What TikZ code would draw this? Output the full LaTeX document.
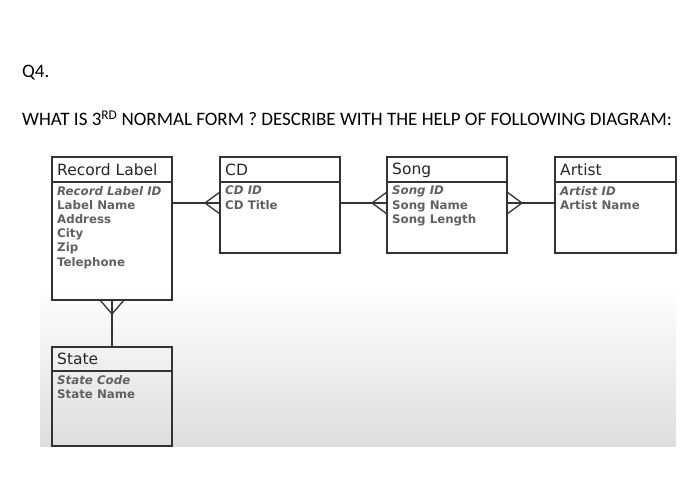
\documentclass[tikz,border=0pt]{standalone}
\usepackage{fontspec}
\setmainfont{Carlito}
\newfontfamily\boxfont{DejaVu Sans}
\begin{document}
\begin{tikzpicture}[x=1pt,y=-1pt,
  ent/.style={draw=black!80,line width=1.3pt},
  hdr/.style={anchor=west,font=\boxfont\fontsize{15.5}{17}\selectfont,text=black!85,inner sep=0pt},
  att/.style={anchor=north west,font=\boxfont\bfseries\fontsize{11.8}{14.2}\selectfont,text=black!62,inner sep=0pt,align=left},
  con/.style={draw=black!80,line width=1.3pt}]
\useasboundingbox (0,0) rectangle (700,486);
\shade[top color=white,bottom color=black!13] (40,285) rectangle (676,446);
\node[anchor=west,inner sep=0pt,font=\fontsize{19}{21}\selectfont] (q) at (22,73) {Q4.};
\node[anchor=west,inner sep=0pt,font=\fontsize{19}{21}\selectfont] (t) at (22,118) {WHAT IS 3\textsuperscript{RD} NORMAL FORM ? DESCRIBE WITH THE HELP OF FOLLOWING DIAGRAM:};
% entities
\draw[ent] (52,157) rectangle (172,300); \draw[ent] (52,182) -- (172,182);
\node[hdr] (rlh) at (57,170) {Record Label};
\node[att] (rla) at (57,186) {\textit{Record Label ID}\\Label Name\\Address\\City\\Zip\\Telephone};
\draw[ent] (220,157) rectangle (340,253); \draw[ent] (220,182) -- (340,182);
\node[hdr] (cdh) at (225,170) {CD};
\node[att] (cda) at (225,186) {\textit{CD ID}\\CD Title};
\draw[ent] (387,157) rectangle (507,253); \draw[ent] (387,182) -- (507,182);
\node[hdr] (sh) at (392,170) {Song};
\node[att] (sa) at (392,186) {\textit{Song ID}\\Song Name\\Song Length};
\draw[ent] (555,157) rectangle (676,253); \draw[ent] (555,182) -- (676,182);
\node[hdr] (ah) at (560,170) {Artist};
\node[att] (aa) at (560,186) {\textit{Artist ID}\\Artist Name};
\draw[ent] (52,347) rectangle (172,446); \draw[ent] (52,371) -- (172,371);
\node[hdr] (sth) at (57,359) {State};
\node[att] (sta) at (57,375) {\textit{State Code}\\State Name};
% connectors
\coordinate (p1) at (205,203);
\draw[con] (172,203) -- (220,203);
\draw[con] (220,192) -- (p1) -- (220,214);
\coordinate (p2) at (372,203);
\draw[con] (340,203) -- (387,203);
\draw[con] (387,192) -- (p2) -- (387,214);
\coordinate (p3) at (522,203);
\draw[con] (507,203) -- (555,203);
\draw[con] (507,192) -- (p3) -- (507,214);
\coordinate (p4) at (112,314);
\draw[con] (112,300) -- (112,347);
\draw[con] (100,300) -- (p4) -- (124,300);
\end{tikzpicture}
\end{document}
